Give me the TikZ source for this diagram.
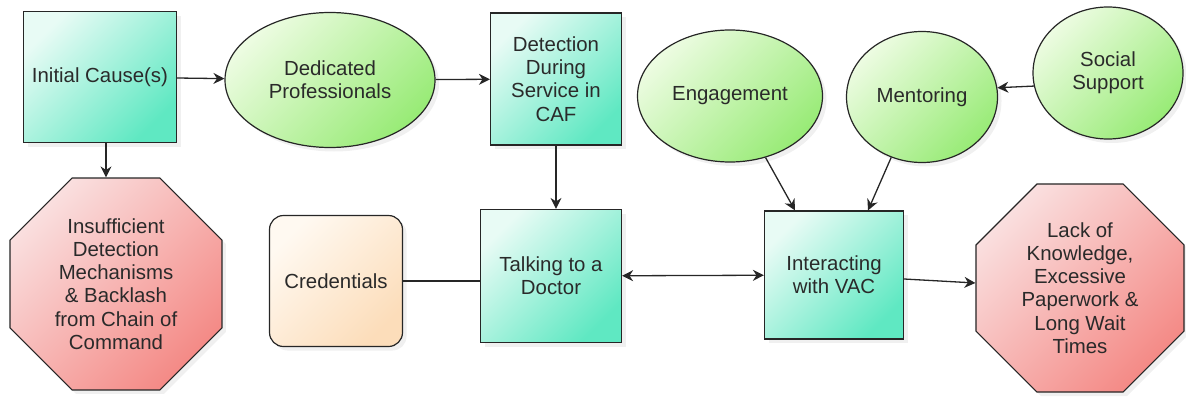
\documentclass[tikz,border=0pt]{standalone}
\usepackage{fontspec}
\setmainfont{Liberation Sans}
\usetikzlibrary{positioning}
\usetikzlibrary{shapes.geometric}
\usetikzlibrary{shapes.misc}
\usetikzlibrary{arrows.meta}
\usetikzlibrary{shadows}
\definecolor{boxlight}{HTML}{E8FBF5}
\definecolor{boxdark}{HTML}{5FE8C2}
\definecolor{ovallight}{HTML}{EDFCE2}
\definecolor{ovaldark}{HTML}{98EB76}
\definecolor{stoplight}{HTML}{FADFDF}
\definecolor{stopdark}{HTML}{F48A86}
\definecolor{credlight}{HTML}{FFF9F1}
\definecolor{creddark}{HTML}{FCDDBA}
\definecolor{ink}{HTML}{2A2A2A}
\tikzset{
	every node/.style = {font=\fontsize{10.2}{11.6}\selectfont, text=ink, align=center, inner sep=0pt},
	soft/.style = {drop shadow={opacity=0.12, shadow xshift=2pt, shadow yshift=-2pt}},
	stage/.style = {rectangle, draw=black!85, line width=0.6pt, soft, top color=boxlight, bottom color=boxdark, shading angle=45},
	factor/.style = {ellipse, draw=black!85, line width=0.6pt, soft, top color=ovallight, bottom color=ovaldark, shading angle=45},
	barrier/.style = {regular polygon, regular polygon sides=8, draw=black!85, line width=0.6pt, soft, top color=stoplight, bottom color=stopdark, shading angle=45},
	support/.style = {rectangle, rounded corners=7pt, draw=black!85, line width=0.6pt, soft, top color=credlight, bottom color=creddark, shading angle=45},
	conn/.style = {draw=black!85, line width=0.65pt, -{Stealth[length=5.5pt,width=5.5pt]}},
	dconn/.style = {draw=black!85, line width=0.65pt, {Stealth[length=5.5pt,width=5.5pt]}-{Stealth[length=5.5pt,width=5.5pt]}},
	link/.style = {draw=black!85, line width=0.65pt}
}

\begin{document}
\begin{tikzpicture}[x=0.5pt, y=-0.5pt]
		\useasboundingbox (0,0) rectangle (1186,396);

		% top row
		\node[stage, minimum width=76.5pt, minimum height=65.5pt] (initial) at (100,77) {Initial Cause(s)};
		\node[factor, minimum width=105pt, minimum height=67.5pt] (dedicated) at (330,80) {Dedicated\\Professionals};
		\node[stage, minimum width=65.5pt, minimum height=66pt] (detection) at (556,79) {Detection\\During\\Service in\\CAF};
		\node[factor, minimum width=92.5pt, minimum height=66pt] (engagement) at (730,96) {Engagement};
		\node[factor, minimum width=75.5pt, minimum height=65.5pt] (mentoring) at (922,97) {Mentoring};
		\node[factor, minimum width=75pt, minimum height=66pt] (social) at (1108,73) {Social\\Support};

		% bottom row
		\node[barrier, minimum size=114.7pt] (insufficient) at (116,284) {Insufficient\\Detection\\Mechanisms\\\& Backlash\\from Chain of\\Command};
		\node[support, minimum width=66.5pt, minimum height=65.5pt] (credentials) at (336,281) {Credentials};
		\node[stage, minimum width=70.5pt, minimum height=66.5pt] (talking) at (551,276) {Talking to a\\Doctor};
		\node[stage, minimum width=69.5pt, minimum height=64pt] (interacting) at (834,275) {Interacting\\with VAC};
		\node[barrier, minimum size=112.6pt] (lack) at (1080,288) {Lack of\\Knowledge,\\Excessive\\Paperwork \&\\Long Wait\\Times};

		\draw[conn] (initial) -- (dedicated);
		\draw[conn] ([xshift=3pt]initial.south) -- ([xshift=3pt]initial.south |- insufficient.north);
		\draw[conn] (dedicated) -- (detection);
		\draw[conn] (detection) -- (detection |- talking.north);
		\draw[link] (credentials.east) -- (credentials.east -| talking.west);
		\draw[dconn] (talking) -- (interacting);
		\draw[conn] (engagement.-60) -- ([xshift=-19.5pt]interacting.north);
		\draw[conn] (mentoring.243) -- ([xshift=17pt]interacting.north);
		\draw[conn] (social.190) -- (mentoring.7);
		\draw[conn] ([yshift=-2pt]interacting.east) -- ([yshift=2.5pt]lack.west);
	\end{tikzpicture}
\end{document}
